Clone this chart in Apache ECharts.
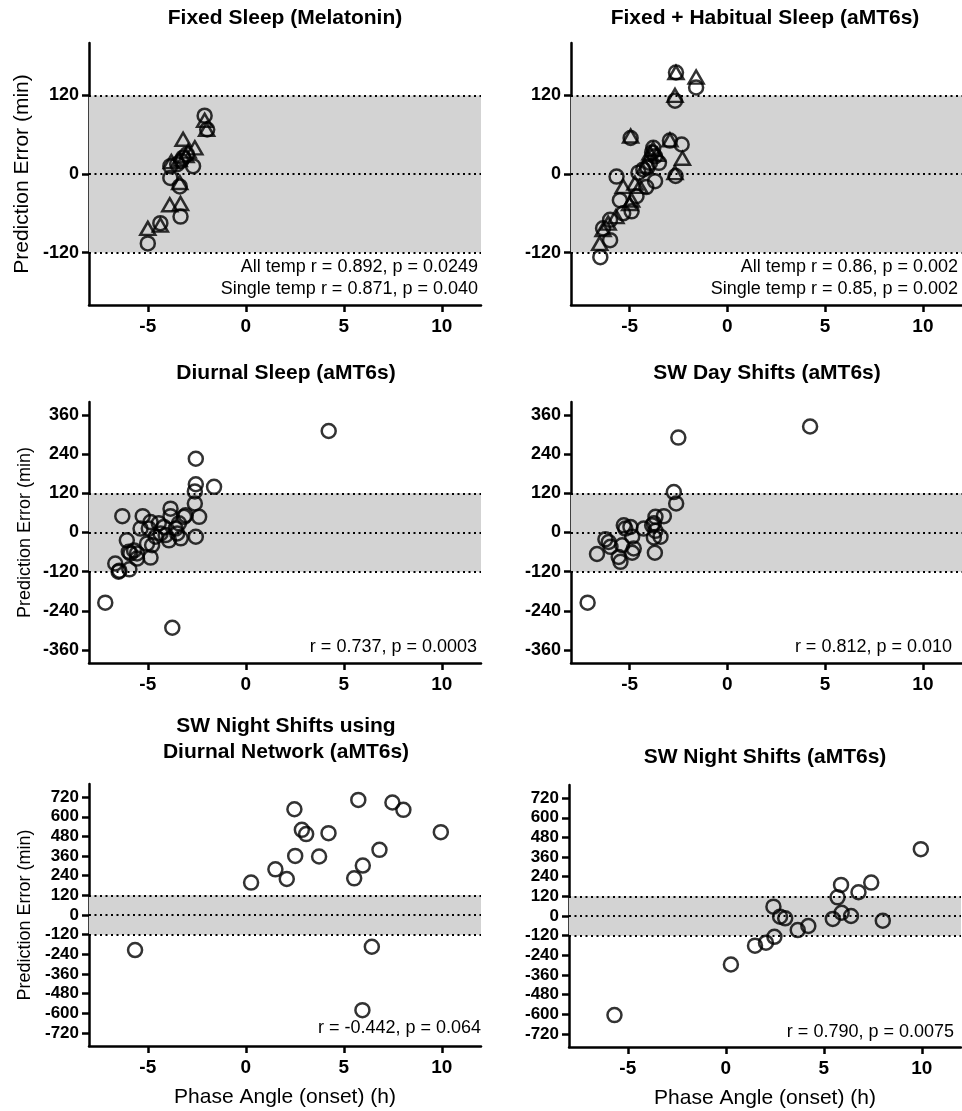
<!DOCTYPE html>
<html><head><meta charset="utf-8">
<script src="https://cdn.jsdelivr.net/npm/echarts@6/dist/echarts.min.js"></script>
<style>html,body{margin:0;padding:0;background:#fff}#c{width:962px;height:1111px}</style>
</head><body><div id="c"></div>
<script>
// ---------- DATA ----------
const xTicks = [-5, 0, 5, 10];
const yTicksTop = [-120, 0, 120];
const yTicksMid = [-360, -240, -120, 0, 120, 240, 360];
const yTicksBot = [-720, -600, -480, -360, -240, -120, 0, 120, 240, 360, 480, 600, 720];

const panelTitles = [
  ["Fixed Sleep (Melatonin)"],
  ["Fixed + Habitual Sleep (aMT6s)"],
  ["Diurnal Sleep (aMT6s)"],
  ["SW Day Shifts (aMT6s)"],
  ["SW Night Shifts using", "Diurnal Network (aMT6s)"],
  ["SW Night Shifts (aMT6s)"]
];
const panelStats = [
  ["All temp r = 0.892, p = 0.0249", "Single temp r = 0.871, p = 0.040"],
  ["All temp r = 0.86, p = 0.002", "Single temp r = 0.85, p = 0.002"],
  ["r = 0.737, p = 0.0003"],
  ["r = 0.812, p = 0.010"],
  ["r = -0.442, p = 0.064"],
  ["r = 0.790, p = 0.0075"]
];
const yTitle = "Prediction Error (min)";
const xTitle = "Phase Angle (onset) (h)";

// Panel 1: Fixed Sleep (Melatonin)
const p1CircX = [-2.1, -1.97, -2.69, -3.2, -3.0, -3.85, -3.85, -3.37, -3.33, -4.36, -5.0, -3.3, -3.5];
const p1CircY = [89, 68, 12, 25, 30, 12, -6, -19, -65, -75, -106, 20, 15];
const p1TriX  = [-2.1, -2.0, -2.6, -3.2, -2.94, -3.8, -3.37, -3.88, -3.33, -4.36, -5.0, -3.4, -3.05];
const p1TriY  = [82, 68, 40, 53, 35, 19, -13, -47, -45, -78, -83, 22, 28];

// Panel 2: Fixed + Habitual Sleep (aMT6s)
const p2CircX = [-2.63, -1.6, -2.68, -4.95, -2.94, -2.34, -2.65, -5.67, -3.79, -3.7, -3.5, -3.7, -4.15, -4.55, -4.65, -5.5, -4.9, -5.33, -6.0, -6.36, -6.0, -6.5, -3.96, -4.3, -3.85, -4.1];
const p2CircY = [155, 132, 112, 55, 51, 45, -3, -4, 40, 27, 17, -11, -20, 2, -34, -40, -57, -60, -70, -83, -101, -127, 17, 7, 33, 10];
const p2TriX  = [-2.63, -1.6, -2.68, -4.95, -2.94, -2.3, -2.68, -5.33, -6.53, -6.36, -5.7, -4.9, -4.48, -3.96, -3.6, -4.22, -4.73, -3.8, -5.0, -6.1];
const p2TriY  = [155, 148, 120, 58, 52, 24, 2, -19, -106, -85, -65, -40, -19, 32, 30, 12, -14, 38, -45, -75];

// Panel 3: Diurnal Sleep (aMT6s)
const p3X = [-7.17, -3.75, 4.23, -6.3, -1.62, -2.55, -2.55, -2.6, -2.6, -2.38, -2.55, -5.26, -4.86, -3.84, -3.84, -3.07, -3.58, -3.5, -4.18, -4.35, -4.6, -4.95, -5.37, -6.07, -5.04, -4.78, -5.97, -5.89, -5.55, -5.7, -4.86, -5.55, -6.66, -6.45, -6.49, -5.94, -4.09, -3.92, -3.32, -4.44, -3.41, -3.15];
const p3Y = [-215, -292, 311, 50, 140, 226, 148, 126, 89, 48, -13, 50, 32, 73, 50, 53, 12, -3, 17, -3, -13, 12, 12, -24, -34, -39, -59, -64, -64, -55, -77, -80, -95, -117, -120, -113, -8, -24, -18, 28, 28, 48];

// Panel 4: SW Day Shifts (aMT6s)
const p4X = [4.23, -2.51, -2.74, -2.62, -7.15, -6.67, -6.24, -6.07, -5.98, -5.56, -5.47, -5.38, -5.3, -4.96, -5.22, -4.87, -4.79, -4.87, -4.28, -3.76, -3.68, -3.25, -3.76, -3.42, -3.68, -3.71, -3.85];
const p4Y = [325, 291, 124, 89, -215, -66, -21, -29, -44, -75, -90, -39, 22, 17, 12, -13, -49, -62, 12, 28, 48, 50, -15, -13, 5, -62, 22];

// Panel 5: SW Night Shifts using Diurnal Network (aMT6s)
const p5X = [-5.65, 0.27, 1.51, 2.09, 2.48, 2.52, 2.86, 3.08, 3.74, 4.22, 5.53, 5.74, 5.97, 5.95, 6.43, 6.82, 7.48, 8.04, 9.95];
const p5Y = [-214, 198, 279, 220, 646, 361, 520, 494, 357, 500, 224, 703, 302, -581, -194, 398, 687, 642, 506];

// Panel 6: SW Night Shifts (aMT6s)
const p6X = [-5.68, 0.26, 1.49, 2.05, 2.48, 2.43, 2.77, 3.03, 3.67, 4.21, 5.46, 5.7, 5.88, 5.91, 6.39, 6.77, 7.42, 8.01, 9.95];
const p6Y = [-605, -296, -181, -163, -127, 57, -4, -14, -86, -61, -18, 114, 190, 20, 0, 145, 204, -29, 408];

// ---------- CHART ----------
const FONT = '"Liberation Sans", Arial, Helvetica, sans-serif';
const zip = (xs, ys) => xs.map((x, i) => [x, ys[i]]);

const grids = [
  {left: 89, top: 43, width: 392, height: 262},
  {left: 571, top: 43, width: 391, height: 262},
  {left: 89, top: 402, width: 392, height: 261},
  {left: 571, top: 402, width: 391, height: 261},
  {left: 89, top: 784, width: 392, height: 262},
  {left: 569, top: 785, width: 392, height: 262}
];
const yRanges = [200, 200, 400, 400, 800, 800];
const yTickSets = [yTicksTop, yTicksTop, yTicksMid, yTicksMid, yTicksBot, yTicksBot];
const yLabelSize = [18, 18, 18, 18, 17, 17];
const yNameShow = [true, false, true, false, true, false];
const yNameSize = [21, 0, 18, 0, 18, 0];
const yNameGap = [56, 0, 55, 0, 55, 0];

const axisLine = {show: true, onZero: false, lineStyle: {color: '#000', width: 2.5}};

const xAxes = grids.map((g, i) => ({
  type: 'value', gridIndex: i, min: -8, max: 12,
  axisLine: axisLine,
  axisTick: {show: true, length: 7, lineStyle: {color: '#000', width: 2.5}, customValues: xTicks},
  axisLabel: {customValues: xTicks, color: '#000', fontFamily: FONT, fontWeight: 'bold', fontSize: 19, margin: 12},
  splitLine: {show: false},
  name: i >= 4 ? xTitle : '',
  nameLocation: 'middle', nameGap: 41,
  nameTextStyle: {color: '#000', fontFamily: FONT, fontSize: 21}
}));

const yAxes = grids.map((g, i) => ({
  type: 'value', gridIndex: i, min: -yRanges[i], max: yRanges[i],
  axisLine: axisLine,
  axisTick: {show: true, length: 7, lineStyle: {color: '#000', width: 2.5}, customValues: yTickSets[i]},
  axisLabel: {customValues: yTickSets[i], color: '#000', fontFamily: FONT, fontWeight: 'bold', fontSize: yLabelSize[i], margin: 10},
  splitLine: {show: false},
  name: yNameShow[i] ? yTitle : '',
  nameLocation: 'middle', nameRotate: 90, nameGap: yNameGap[i],
  nameTextStyle: {color: '#000', fontFamily: FONT, fontSize: yNameSize[i] || 12}
}));

const markArea = {
  silent: true,
  itemStyle: {color: '#d3d3d3'},
  data: [[{yAxis: -120}, {yAxis: 120}]]
};
const markLine = {
  silent: true, symbol: ['none', 'none'],
  label: {show: false},
  lineStyle: {color: '#000', width: 2.2, type: [2, 3.5]},
  data: [{yAxis: -120}, {yAxis: 0}, {yAxis: 120}]
};
const circStyle = {color: 'rgba(0,0,0,0)', borderColor: '#000', borderWidth: 2.5};

function sc(i, data, symbol, withMarks) {
  const s = {
    type: 'scatter', xAxisIndex: i, yAxisIndex: i, data: data,
    symbol: symbol, symbolSize: symbol === 'triangle' ? [15, 13] : 14,
    itemStyle: circStyle, silent: true, z: 3
  };
  if (withMarks) { s.markArea = markArea; s.markLine = markLine; }
  return s;
}

const series = [
  sc(0, zip(p1CircX, p1CircY), 'circle', true),
  sc(0, zip(p1TriX, p1TriY), 'triangle', false),
  sc(1, zip(p2CircX, p2CircY), 'circle', true),
  sc(1, zip(p2TriX, p2TriY), 'triangle', false),
  sc(2, zip(p3X, p3Y), 'circle', true),
  sc(3, zip(p4X, p4Y), 'circle', true),
  sc(4, zip(p5X, p5Y), 'circle', true),
  sc(5, zip(p6X, p6Y), 'circle', true)
];

// titles & annotations as text graphics
const titlePos = [
  [285, [18]], [765, [18]], [286, [373]], [767, [373]], [286, [726, 752]], [765, [757]]
];
const statPos = [
  [478, [267, 289]], [958, [267, 289]], [477, [647]], [952, [647]], [481, [1028]], [954, [1032]]
];
const graphics = [];
panelTitles.forEach((lines, i) => {
  lines.forEach((t, j) => graphics.push({
    type: 'text', x: titlePos[i][0], y: titlePos[i][1][j],
    style: {text: t, fill: '#000', font: 'bold 21px ' + FONT, textAlign: 'center', textVerticalAlign: 'middle'}
  }));
});
panelStats.forEach((lines, i) => {
  lines.forEach((t, j) => graphics.push({
    type: 'text', x: statPos[i][0], y: statPos[i][1][j],
    style: {text: t, fill: '#000', font: '18px ' + FONT, textAlign: 'right', textVerticalAlign: 'middle'}
  }));
});

const chart = echarts.init(document.getElementById('c'), null, {renderer: 'canvas'});
chart.setOption({
  backgroundColor: '#fff',
  animation: false,
  grid: grids,
  xAxis: xAxes,
  yAxis: yAxes,
  series: series,
  graphic: graphics
});
</script></body></html>
